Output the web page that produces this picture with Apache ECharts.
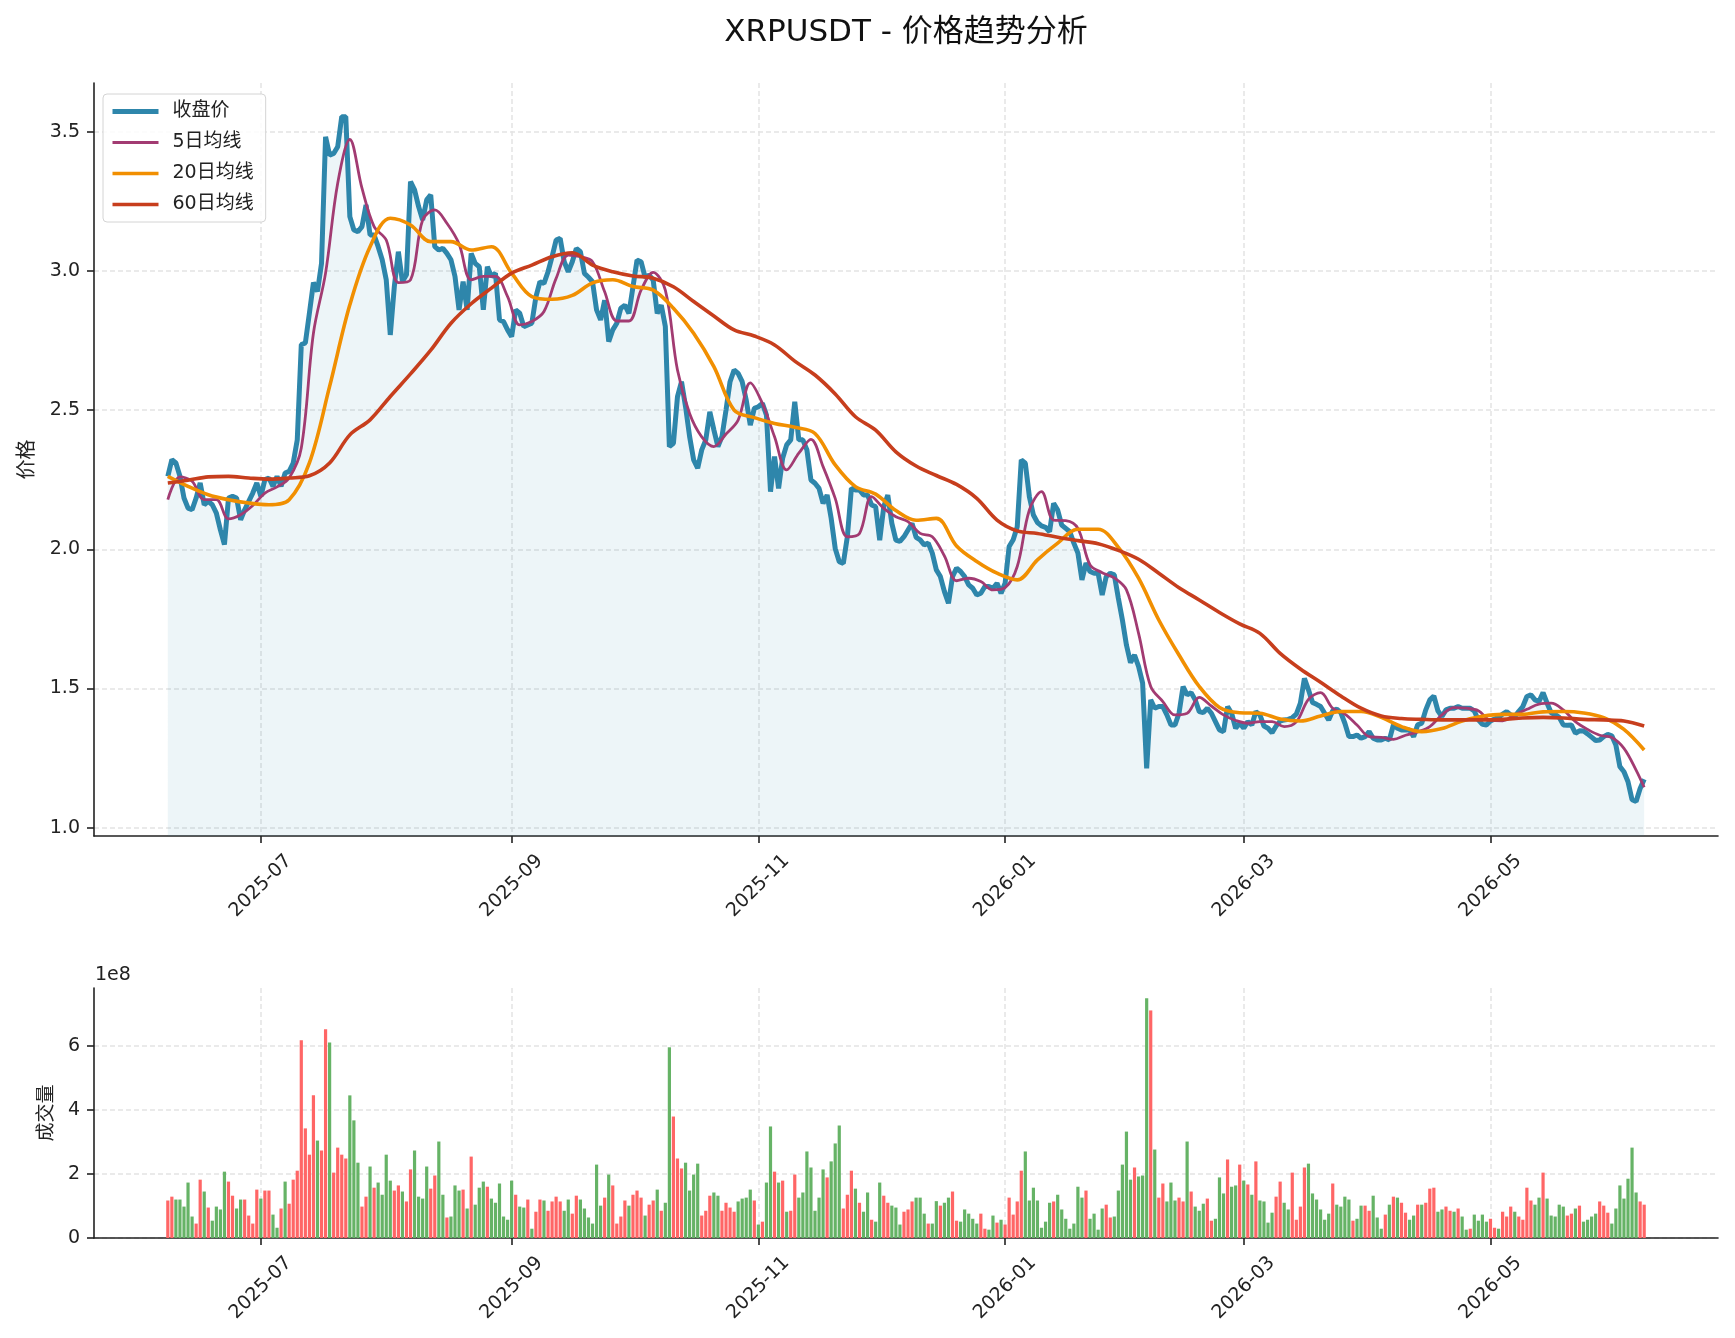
<!DOCTYPE html>
<html>
<head>
<meta charset="utf-8">
<title>XRPUSDT - 价格趋势分析</title>
<script src="https://cdn.jsdelivr.net/npm/echarts@6/dist/echarts.min.js"></script>
<style>
  html, body { margin: 0; padding: 0; background: #fff; }
  #chart { width: 1735px; height: 1338px; }
</style>
</head>
<body>
<div id="chart"></div>
<script>
// daily series, first day 2025-06-08
const startDay = [2025, 6, 8];
const tickLabels = ['2025-07', '2025-09', '2025-11', '2026-01', '2026-03', '2026-05'];
const priceTicks = [1.0, 1.5, 2.0, 2.5, 3.0, 3.5];
const volTicks = [0, 2, 4, 6];
const legendNames = ['收盘价', '5日均线', '20日均线', '60日均线'];

const close = [
  2.262, 2.322, 2.31, 2.262, 2.184, 2.148, 2.142, 2.184, 2.238, 2.16,
  2.172, 2.16, 2.13, 2.07, 2.017, 2.184, 2.19, 2.184, 2.106, 2.142,
  2.172, 2.202, 2.238, 2.19, 2.25, 2.256, 2.226, 2.262, 2.226, 2.274,
  2.28, 2.31, 2.393, 2.735, 2.741, 2.848, 2.958, 2.926, 3.027, 3.482,
  3.416, 3.422, 3.446, 3.554, 3.554, 3.195, 3.147, 3.141, 3.159, 3.237,
  3.129, 3.129, 3.087, 3.04, 2.968, 2.77, 2.944, 3.069, 2.962, 2.986,
  3.321, 3.291, 3.231, 3.183, 3.255, 3.273, 3.087, 3.075, 3.081, 3.063,
  3.04, 2.98, 2.86, 2.962, 2.86, 3.063, 3.027, 3.015, 2.86, 3.015,
  2.98, 2.992, 2.824, 2.818, 2.788, 2.764, 2.86, 2.848, 2.80, 2.806,
  2.812, 2.907, 2.961, 2.955, 2.997, 3.051, 3.111, 3.117, 3.033, 2.997,
  3.033, 3.081, 3.069, 2.991, 2.977, 2.961, 2.86, 2.824, 2.895, 2.746,
  2.788, 2.812, 2.866, 2.877, 2.847, 2.943, 3.039, 3.033, 2.977, 2.985,
  2.967, 2.847, 2.877, 2.80, 2.369, 2.381, 2.548, 2.602, 2.512, 2.405,
  2.321, 2.291, 2.357, 2.393, 2.494, 2.429, 2.369, 2.405, 2.50, 2.602,
  2.644, 2.632, 2.602, 2.536, 2.446, 2.506, 2.512, 2.524, 2.482, 2.207,
  2.333, 2.219, 2.327, 2.375, 2.393, 2.53, 2.393, 2.393, 2.357, 2.249,
  2.237, 2.219, 2.165, 2.195, 2.111, 2.003, 1.955, 1.949, 2.045, 2.219,
  2.213, 2.213, 2.195, 2.195, 2.159, 2.153, 2.033, 2.153, 2.195, 2.093,
  2.033, 2.028, 2.045, 2.069, 2.093, 2.043, 2.034, 2.016, 2.022, 1.986,
  1.926, 1.902, 1.848, 1.806, 1.902, 1.932, 1.92, 1.902, 1.872, 1.86,
  1.836, 1.842, 1.866, 1.866, 1.86, 1.878, 1.842, 1.878, 2.01, 2.034,
  2.081, 2.321, 2.309, 2.189, 2.123, 2.096, 2.084, 2.079, 2.063, 2.165,
  2.141, 2.087, 2.075, 2.063, 2.022, 1.986, 1.89, 1.95, 1.92, 1.914,
  1.914, 1.836, 1.902, 1.914, 1.908, 1.824, 1.746, 1.656, 1.593, 1.62,
  1.579, 1.519, 1.213, 1.459, 1.429, 1.435, 1.435, 1.405, 1.369, 1.369,
  1.411, 1.507, 1.477, 1.485, 1.459, 1.417, 1.413, 1.429, 1.411, 1.381,
  1.351, 1.345, 1.435, 1.411, 1.357, 1.375, 1.357, 1.381, 1.369, 1.417,
  1.405, 1.365, 1.357, 1.341, 1.365, 1.383, 1.387, 1.389, 1.395, 1.408,
  1.447, 1.536, 1.495, 1.45, 1.443, 1.435, 1.411, 1.387, 1.42, 1.426,
  1.413, 1.375, 1.327, 1.327, 1.333, 1.321, 1.327, 1.345, 1.321, 1.315,
  1.315, 1.321, 1.315, 1.369, 1.357, 1.351, 1.351, 1.351, 1.327, 1.369,
  1.375, 1.423, 1.459, 1.473, 1.42, 1.399, 1.423, 1.429, 1.429, 1.435,
  1.429, 1.429, 1.429, 1.419, 1.387, 1.371, 1.369, 1.383, 1.39, 1.396,
  1.408, 1.417, 1.405, 1.399, 1.418, 1.435, 1.471, 1.477, 1.459, 1.453,
  1.485, 1.447, 1.413, 1.406, 1.396, 1.369, 1.368, 1.369, 1.339, 1.348,
  1.347, 1.337, 1.325, 1.313, 1.315, 1.327, 1.335, 1.33, 1.297, 1.219,
  1.201, 1.165, 1.10, 1.094, 1.141, 1.174
];

// moving averages, one value every N days
const ma5Step = 3;
const ma5 = [
  2.178, 2.26, 2.244, 2.178, 2.178, 2.109, 2.124, 2.157, 2.202, 2.224,
  2.256, 2.364, 2.776, 2.992, 3.315, 3.472, 3.297, 3.159, 3.111, 2.958,
  2.968, 3.183, 3.219, 3.171, 3.097, 2.968, 2.98, 2.98, 2.908, 2.806,
  2.818, 2.854, 2.973, 3.057, 3.051, 3.033, 2.925, 2.82, 2.82, 2.931,
  2.995, 2.931, 2.644, 2.488, 2.404, 2.369, 2.414, 2.464, 2.598, 2.524,
  2.404, 2.285, 2.345, 2.395, 2.297, 2.183, 2.045, 2.057, 2.189, 2.147,
  2.117, 2.099, 2.057, 2.045, 1.976, 1.887, 1.896, 1.884, 1.854, 1.862,
  1.938, 2.141, 2.207, 2.105, 2.103, 2.075, 1.944, 1.916, 1.897, 1.854,
  1.698, 1.507, 1.453, 1.405, 1.411, 1.468, 1.437, 1.405, 1.385, 1.375,
  1.381, 1.381, 1.363, 1.38, 1.461, 1.485, 1.429, 1.408, 1.369, 1.327,
  1.324, 1.317, 1.332, 1.344, 1.363, 1.405, 1.431, 1.429, 1.42, 1.386,
  1.384, 1.405, 1.425, 1.444, 1.447, 1.423, 1.381, 1.353, 1.332, 1.324,
  1.285, 1.207, 1.145
];
const ma20Step = 5;
const ma20 = [
  2.262, 2.226, 2.196, 2.178, 2.166, 2.16, 2.178, 2.31, 2.585, 2.878,
  3.087, 3.189, 3.165, 3.105, 3.105, 3.075, 3.087, 2.992, 2.908, 2.898,
  2.912, 2.957, 2.968, 2.944, 2.931, 2.866, 2.776, 2.656, 2.50, 2.473,
  2.452, 2.438, 2.416, 2.303, 2.225, 2.198, 2.139, 2.104, 2.111, 2.012,
  1.956, 1.914, 1.89, 1.962, 2.022, 2.072, 2.072, 2.007, 1.896, 1.746,
  1.62, 1.507, 1.432, 1.413, 1.411, 1.39, 1.383, 1.401, 1.417, 1.417,
  1.396, 1.363, 1.345, 1.356, 1.383, 1.40, 1.407, 1.407, 1.416, 1.417,
  1.412, 1.395, 1.353, 1.279
];
const ma60Step = 5;
const ma60 = [
  2.238, 2.248, 2.26, 2.262, 2.256, 2.252, 2.256, 2.264, 2.31, 2.411,
  2.465, 2.549, 2.63, 2.715, 2.812, 2.882, 2.938, 2.992, 3.021, 3.051,
  3.065, 3.021, 2.997, 2.982, 2.974, 2.943, 2.89, 2.838, 2.788, 2.766,
  2.734, 2.676, 2.626, 2.558, 2.476, 2.428, 2.35, 2.299, 2.265, 2.233,
  2.183, 2.105, 2.066, 2.057, 2.043, 2.031, 2.02, 1.996, 1.964, 1.914,
  1.862, 1.818, 1.773, 1.732, 1.698, 1.626, 1.57, 1.522, 1.473, 1.429,
  1.401, 1.392, 1.389, 1.387, 1.387, 1.387, 1.389, 1.394, 1.396, 1.394,
  1.389, 1.387, 1.383, 1.365
];

// volume in units of 1e8
const volume = [
  1.17, 1.29, 1.20, 1.20, 0.98, 1.73, 0.67, 0.45, 1.82, 1.45,
  0.95, 0.54, 0.98, 0.89, 2.07, 1.76, 1.32, 0.92, 1.20, 1.20,
  0.70, 0.45, 1.51, 1.23, 1.48, 1.48, 0.73, 0.32, 0.92, 1.76,
  1.07, 1.82, 2.10, 6.17, 3.42, 2.60, 4.45, 3.04, 2.73, 6.51,
  6.10, 2.04, 2.82, 2.60, 2.48, 4.45, 3.67, 2.35, 0.98, 1.29,
  2.23, 1.57, 1.73, 1.35, 2.60, 1.79, 1.48, 1.64, 1.45, 1.14,
  2.14, 2.73, 1.29, 1.23, 2.23, 1.54, 1.95, 3.01, 1.35, 0.64,
  0.67, 1.64, 1.48, 1.51, 0.92, 2.54, 1.04, 1.57, 1.76, 1.60,
  1.23, 1.10, 1.70, 0.67, 0.57, 1.79, 1.35, 0.98, 0.95, 1.20,
  0.29, 0.82, 1.20, 1.17, 0.85, 1.14, 1.29, 1.14, 0.85, 1.20,
  0.76, 1.32, 1.20, 0.92, 0.64, 0.45, 2.29, 1.01, 1.26, 1.98,
  1.64, 0.45, 0.67, 1.17, 1.01, 1.35, 1.48, 1.26, 0.70, 1.04,
  1.17, 1.51, 0.85, 1.10, 5.95, 3.79, 2.48, 2.17, 2.35, 1.48,
  1.98, 2.32, 0.70, 0.85, 1.32, 1.42, 1.32, 0.85, 1.10, 0.95,
  0.82, 1.14, 1.23, 1.26, 1.51, 1.17, 0.42, 0.51, 1.73, 3.48,
  2.07, 1.73, 1.79, 0.82, 0.85, 1.98, 1.26, 1.42, 2.70, 2.20,
  0.85, 1.26, 2.14, 1.89, 2.39, 2.95, 3.51, 0.92, 1.35, 2.10,
  1.54, 1.10, 0.82, 1.42, 0.57, 0.51, 1.73, 1.32, 1.10, 1.01,
  0.95, 0.42, 0.82, 0.89, 1.14, 1.26, 1.26, 0.76, 0.45, 0.45,
  1.15, 1.01, 1.10, 1.26, 1.45, 0.54, 0.51, 0.89, 0.76, 0.60,
  0.45, 0.76, 0.29, 0.26, 0.70, 0.48, 0.57, 0.42, 1.26, 0.73,
  1.14, 2.10, 2.70, 1.17, 1.57, 1.17, 0.32, 0.51, 1.10, 1.14,
  1.35, 0.89, 0.60, 0.29, 0.45, 1.60, 1.26, 1.48, 0.60, 0.76,
  0.26, 0.92, 1.04, 0.64, 0.67, 1.48, 2.29, 3.32, 1.82, 2.20,
  1.92, 1.95, 7.48, 7.10, 2.76, 1.26, 1.70, 1.14, 1.73, 1.17,
  1.26, 1.14, 3.01, 1.45, 0.98, 0.85, 1.07, 1.23, 0.54, 0.60,
  1.89, 1.39, 2.45, 1.60, 1.64, 2.29, 1.79, 1.67, 1.35, 2.39,
  1.17, 1.14, 0.48, 0.79, 1.29, 1.76, 1.10, 0.89, 2.04, 0.57,
  0.98, 2.20, 2.32, 1.39, 1.20, 0.89, 0.57, 0.76, 1.70, 1.04,
  0.98, 1.29, 1.20, 0.54, 0.60, 1.01, 1.01, 0.85, 1.32, 0.64,
  0.29, 0.73, 1.04, 1.29, 1.26, 1.10, 0.79, 0.57, 0.70, 1.04,
  1.04, 1.10, 1.54, 1.57, 0.82, 0.89, 0.98, 0.85, 0.82, 0.92,
  0.67, 0.26, 0.29, 0.73, 0.54, 0.73, 0.51, 0.60, 0.32, 0.29,
  0.82, 0.67, 0.98, 0.82, 0.67, 0.57, 1.57, 1.17, 1.04, 1.26,
  2.04, 1.23, 0.70, 0.67, 1.04, 0.98, 0.70, 0.76, 0.92, 1.01,
  0.51, 0.57, 0.67, 0.76, 1.14, 1.01, 0.79, 0.45, 0.92, 1.64,
  1.23, 1.85, 2.82, 1.42, 1.14, 1.04
];
// r = up day (red), g = down day (green)
const volDir = (
  'rrgggggrrg' + 'rggggrrggr' + 'rrrgrrggrg' + 'rrrrrrrgrr' + 'grrrrgggrr' +
  'grggggrrgr' + 'rggggrrggr' + 'gggrgrgggr' + 'ggggggrggr' + 'grrgrrrrgg' +
  'rrggggggrg' + 'rrrrgrrrgr' + 'rgrggrrrgg' + 'ggrrrggrrr' + 'rggggrgrgg' +
  'rgrgrrgggg' + 'gggrgggrrr' + 'grggrggrrg' + 'ggrrrgggrg' + 'grggrrgggg' +
  'grrggrgrrr' + 'rrgggggggr' + 'gggggggrgg' + 'ggrrgggggr' + 'gggrgrrggg' +
  'rrgrgggrrg' + 'ggrggrgrgr' + 'ggggrrggrr' + 'rrggggggrg' + 'gggrggrrgg' +
  'grgrgrrggr' + 'grrrggrrgr' + 'ggrggggrrg' + 'rrrgrrrrgg' + 'rgggggrrgr' +
  'ggggrrrggg' + 'ggggrr'
).split('');

const DAY = 86400000;
const t0 = Date.UTC(startDay[0], startDay[1] - 1, startDay[2]);
const lastDay = close.length - 1;
const ts = i => t0 + Math.min(i, lastDay) * DAY;
const tickTs = tickLabels.map(s => Date.UTC(+s.slice(0, 4), +s.slice(5, 7) - 1, 1));
const xMin = t0 - 0.05 * lastDay * DAY;
const xMax = t0 + 1.05 * lastDay * DAY;

const font = "'DejaVu Sans', 'Noto Sans CJK SC', sans-serif";
const ink = '#222';
const gridLine = { show: true, lineStyle: { color: '#e3e3e3', width: 1.5, type: [5, 3] } };
const pad2 = n => (n < 10 ? '0' : '') + n;
const monthLabel = v => {
  const d = new Date(v);
  return d.getUTCFullYear() + '-' + pad2(d.getUTCMonth() + 1);
};

const colors = ['#2E86AB', '#A23B72', '#F18F01', '#C73E1D'];
const widths = [5, 2.8, 3.6, 3.6];

// dates sit on a plain value axis in ms, so the month ticks can be fixed
function xAxisFor(idx) {
  return {
    type: 'value', gridIndex: idx, min: xMin, max: xMax,
    axisLine: { onZero: false, lineStyle: { color: ink, width: 1.6 } },
    axisTick: { customValues: tickTs, length: 7, lineStyle: { color: ink, width: 1.6 } },
    axisLabel: {
      customValues: tickTs, formatter: monthLabel, rotate: 45,
      align: 'center', verticalAlign: 'middle', margin: 50,
      fontSize: 19, color: ink, fontFamily: font
    },
    splitLine: gridLine
  };
}

const sampled = (arr, step) => arr.map((v, i) => [ts(i * step), v]);

function maSeries(k, data) {
  return {
    name: legendNames[k], type: 'line', xAxisIndex: 0, yAxisIndex: 0,
    data: data, symbol: 'none', showSymbol: false, smooth: 0.35, color: colors[k],
    lineStyle: { width: widths[k], color: colors[k] }
  };
}

const chart = echarts.init(document.getElementById('chart'));
chart.setOption({
  animation: false,
  backgroundColor: '#fff',
  textStyle: { fontFamily: font },
  graphic: [
    { type: 'text', x: 906, y: 17, style: { text: 'XRPUSDT - 价格趋势分析', fontSize: 31, fontFamily: font, fill: '#111', align: 'center', verticalAlign: 'top' } },
    { type: 'text', x: 95, y: 966, style: { text: '1e8', fontSize: 19, fontFamily: font, fill: ink, align: 'left', verticalAlign: 'top' } }
  ],
  legend: {
    data: legendNames.map((n, k) => ({
      name: n,
      itemStyle: { opacity: 0 },
      lineStyle: { width: widths[k], color: colors[k] }
    })),
    orient: 'vertical', left: 103, top: 94,
    padding: [8, 12, 8, 7], itemGap: 12, itemWidth: 46, itemHeight: 18,
    backgroundColor: 'rgba(255,255,255,0.85)', borderColor: '#d4d4d4', borderWidth: 1, borderRadius: 4,
    textStyle: { fontSize: 19, color: ink, fontFamily: font, padding: [0, 0, 0, 9] }
  },
  grid: [
    { left: 94, right: 17, top: 83, height: 753, outerBoundsMode: 'none' },
    { left: 94, right: 17, top: 988, height: 250, outerBoundsMode: 'none' }
  ],
  xAxis: [xAxisFor(0), xAxisFor(1)],
  yAxis: [
    {
      type: 'value', gridIndex: 0, min: 0.970, max: 3.675,
      name: '价格', nameLocation: 'middle', nameGap: 56, nameRotate: 90,
      nameTextStyle: { fontSize: 20, color: ink, fontFamily: font },
      axisLine: { show: true, lineStyle: { color: ink, width: 1.6 } },
      axisTick: { show: true, customValues: priceTicks, length: 7, lineStyle: { color: ink, width: 1.6 } },
      axisLabel: { customValues: priceTicks, formatter: v => v.toFixed(1), margin: 14, fontSize: 19, color: ink, fontFamily: font },
      splitLine: gridLine
    },
    {
      type: 'value', gridIndex: 1, min: 0, max: 7.8,
      name: '成交量', nameLocation: 'middle', nameGap: 36, nameRotate: 90,
      nameTextStyle: { fontSize: 19, color: ink, fontFamily: font },
      axisLine: { show: true, lineStyle: { color: ink, width: 1.6 } },
      axisTick: { show: true, customValues: volTicks, length: 7, lineStyle: { color: ink, width: 1.6 } },
      axisLabel: { customValues: volTicks, formatter: v => String(v), margin: 14, fontSize: 19, color: ink, fontFamily: font },
      splitLine: gridLine
    }
  ],
  series: [
    {
      name: '收盘价', type: 'line', xAxisIndex: 0, yAxisIndex: 0,
      data: close.map((v, i) => [ts(i), v]),
      symbol: 'none', showSymbol: false, color: colors[0],
      lineStyle: { width: widths[0], color: colors[0] },
      areaStyle: { color: 'rgba(46,134,171,0.12)', origin: 'start' }
    },
    maSeries(1, sampled(ma5, ma5Step)),
    maSeries(2, sampled(ma20, ma20Step)),
    maSeries(3, sampled(ma60, ma60Step)),
    {
      name: '成交量', type: 'bar', xAxisIndex: 1, yAxisIndex: 1,
      barWidth: 3.2,
      data: volume.map((v, i) => ({
        value: [ts(i), v],
        itemStyle: { color: volDir[i] === 'r' ? '#ff6666' : '#66b366' }
      }))
    }
  ]
});
</script>
</body>
</html>
